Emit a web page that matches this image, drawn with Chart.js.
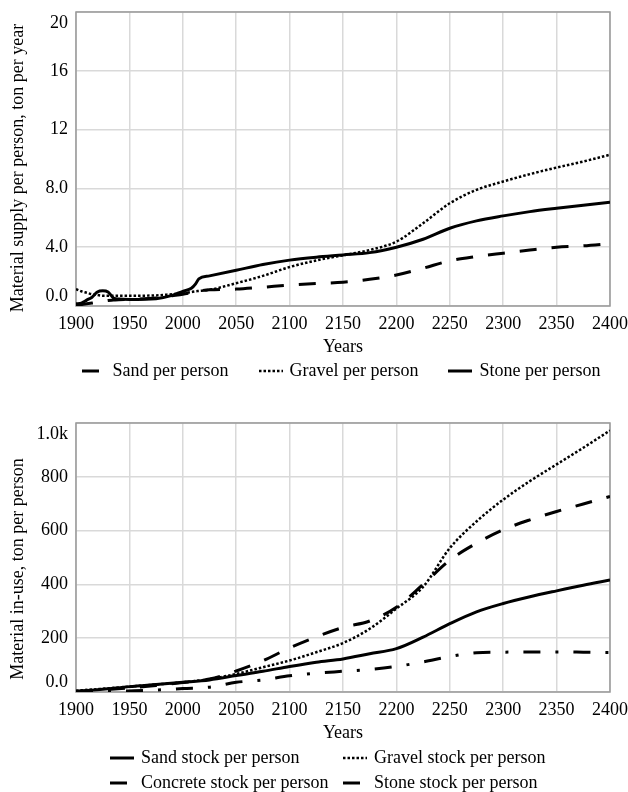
<!DOCTYPE html>
<html>
<head>
<meta charset="utf-8">
<script src="https://cdn.jsdelivr.net/npm/chart.js@4.4.1/dist/chart.umd.min.js"></script>
<style>
  html, body { margin: 0; padding: 0; background: #fff; }
  #wrap { position: relative; width: 628px; height: 792px; font-family: "Liberation Serif", "Times New Roman", serif; font-size: 18px; color: #000; }
  .box { position: absolute; left: 0; width: 628px; }
  #supplyBox { top: 0; height: 390px; }
  #stockBox { top: 390px; height: 402px; }
  .legend { position: absolute; display: flex; align-items: center; white-space: nowrap; }
  .legend .item { display: flex; align-items: center; height: 25px; }
  .legend svg { margin-right: 7px; }
  #supplyLegend { left: 58px; width: 566px; top: 358px; justify-content: center; gap: 30px; }
  #stockLegend { left: 110px; top: 745px; display: grid; grid-template-columns: 233px auto; }
</style>
</head>
<body>
<div id="wrap">
  <div class="box" id="supplyBox"><canvas id="supplyChart"></canvas></div>
  <div class="box" id="stockBox"><canvas id="stockChart"></canvas></div>
  <div class="legend" id="supplyLegend"></div>
  <div class="legend" id="stockLegend"></div>
</div>
<script>
// supply per person, ton per year
const supplyYears = [1900, 1905, 1910, 1915, 1920, 1925, 1930, 1935, 1940, 1950, 1975, 1990, 2000, 2008, 2012, 2015,
  2025, 2050, 2075, 2100, 2125, 2150, 2175, 2200, 2225, 2250, 2275, 2300, 2325, 2350, 2375, 2400];
const sandSupply = [0.10, 0.10, 0.15, 0.20, 0.25, 0.30, 0.38, 0.40, 0.42, 0.45, 0.55, 0.70, 0.80, 0.90, 0.95, 1.00,
  1.10, 1.15, 1.28, 1.42, 1.53, 1.62, 1.82, 2.11, 2.57, 3.07, 3.36, 3.59, 3.81, 4.00, 4.09, 4.24];
const gravelSupply = [1.15, 1.00, 0.90, 0.80, 0.75, 0.70, 0.70, 0.70, 0.70, 0.70, 0.72, 0.80, 0.85, 0.95, 1.00, 1.02,
  1.10, 1.55, 2.05, 2.65, 3.10, 3.45, 3.81, 4.38, 5.63, 6.99, 7.90, 8.47, 8.97, 9.42, 9.83, 10.29];
const stoneSupply = [0.15, 0.20, 0.40, 0.60, 0.95, 1.03, 0.95, 0.55, 0.47, 0.45, 0.50, 0.72, 1.00, 1.20, 1.50, 1.85,
  2.05, 2.43, 2.82, 3.12, 3.32, 3.47, 3.63, 4.00, 4.54, 5.29, 5.79, 6.13, 6.42, 6.65, 6.86, 7.06];
const supplyTickLabels = ['0.0', '4.0', '8.0', '12', '16', '20'];

// material stock in use, ton per person
const stockYears = [1900, 1925, 1950, 1975, 2000, 2025, 2050, 2075, 2100, 2125, 2150,
  2175, 2200, 2225, 2250, 2275, 2300, 2325, 2350, 2375, 2400];
const sandStock = [2, 10, 20, 28, 36, 45, 61, 77, 95, 111, 123, 142, 161, 204, 254, 298, 329, 354, 376, 397, 416];
const gravelStock = [5, 12, 20, 28, 36, 48, 67, 92, 117, 148, 182, 235, 310, 391, 535, 634, 715, 784, 846, 908, 972];
const concreteStock = [3, 8, 15, 24, 35, 48, 78, 116, 164, 205, 240, 264, 315, 400, 490, 553, 603, 640, 671, 699, 727];
const stoneStock = [0, 2, 4, 7, 13, 18, 36, 45, 60, 70, 77, 84, 95, 112, 132, 146, 148, 149, 149, 148, 147];
const stockTickLabels = ['0.0', '200', '400', '600', '800', '1.0k'];

const FONT = '"Liberation Serif", "Times New Roman", serif';
Chart.defaults.font.family = FONT;
Chart.defaults.font.size = 18;
Chart.defaults.color = '#000';

const DOTTED = [2.5, 2];
const LONG_DASH = [17, 15];
const DASH_DOT = [17, 15, 3, 15];

function series(label, years, values, dash, width) {
  return {
    label,
    data: years.map((yr, i) => ({ x: yr, y: values[i] })),
    borderColor: '#000',
    borderWidth: width,
    borderDash: dash,
    pointRadius: 0,
    fill: false,
    cubicInterpolationMode: 'monotone'
  };
}

// frame around the plot and the y tick labels, end labels pulled inside the frame
const plotFrame = {
  id: 'plotFrame',
  beforeDatasetsDraw(chart) {
    const { ctx, chartArea: a } = chart;
    ctx.save();
    ctx.strokeStyle = '#999';
    ctx.lineWidth = 1.5;
    ctx.strokeRect(a.left, a.top, a.right - a.left, a.bottom - a.top);
    ctx.restore();
  },
  afterDraw(chart, args, opts) {
    const { ctx, chartArea: a } = chart;
    const y = chart.scales.y;
    ctx.save();
    ctx.font = '18px ' + FONT;
    ctx.fillStyle = '#000';
    ctx.textAlign = 'right';
    ctx.textBaseline = 'middle';
    y.ticks.forEach((t, i) => {
      let py = y.getPixelForValue(t.value);
      py = Math.min(Math.max(py, a.top + 11), a.bottom - 10);
      ctx.fillText(opts.labels[i], a.left - 8, py);
    });
    ctx.translate(18, opts.titleY);
    ctx.rotate(-Math.PI / 2);
    ctx.textAlign = 'center';
    ctx.fillText(opts.title, 0, 0);
    ctx.restore();
  }
};

function makeOptions(yMax, yStep, padding, tickLabels, title, titleY) {
  return {
    responsive: true,
    maintainAspectRatio: false,
    animation: false,
    layout: { padding },
    plugins: {
      legend: { display: false },
      tooltip: { enabled: false },
      plotFrame: { labels: tickLabels, title, titleY }
    },
    scales: {
      x: {
        type: 'linear',
        min: 1900,
        max: 2400,
        grid: { color: '#d9d9d9', lineWidth: 1.5, tickLength: 7, tickColor: 'transparent' },
        border: { display: false },
        ticks: { stepSize: 50, padding: 0, callback: v => String(v), maxRotation: 0 },
        title: { display: true, text: 'Years', padding: { top: 0, bottom: 2 } },
        afterFit(scale) { scale.height = 54; }
      },
      y: {
        min: 0,
        max: yMax,
        grid: { color: '#d9d9d9', lineWidth: 1.5, drawTicks: false },
        border: { display: false },
        ticks: { stepSize: yStep, display: false },
        afterFit(scale) { scale.width = 76; }
      }
    }
  };
}

// legend built in the page from the chart's own datasets
function htmlLegend(chart, el) {
  chart.data.datasets.forEach(ds => {
    const item = document.createElement('div');
    item.className = 'item';
    const dash = ds.borderDash && ds.borderDash.length ? ds.borderDash.join(' ') : 'none';
    item.innerHTML = '<svg width="24" height="10"><line x1="0" y1="5" x2="24" y2="5" stroke="#000" stroke-width="' +
      ds.borderWidth + '" stroke-dasharray="' + dash + '"/></svg><span>' + ds.label + '</span>';
    el.appendChild(item);
  });
}

const supplyChart = new Chart(document.getElementById('supplyChart'), {
  type: 'line',
  data: {
    datasets: [
      series('Sand per person', supplyYears, sandSupply, LONG_DASH, 3),
      series('Gravel per person', supplyYears, gravelSupply, DOTTED, 2.5),
      series('Stone per person', supplyYears, stoneSupply, [], 3)
    ]
  },
  options: makeOptions(20, 4, { top: 12, right: 18, bottom: 30, left: 0 }, supplyTickLabels,
    'Material supply per person, ton per year', 168),
  plugins: [plotFrame]
});

const stockChart = new Chart(document.getElementById('stockChart'), {
  type: 'line',
  data: {
    datasets: [
      series('Sand stock per person', stockYears, sandStock, [], 3),
      series('Gravel stock per person', stockYears, gravelStock, DOTTED, 2.5),
      series('Concrete stock per person', stockYears, concreteStock, LONG_DASH, 3),
      series('Stone stock per person', stockYears, stoneStock, DASH_DOT, 3)
    ]
  },
  options: makeOptions(1000, 200, { top: 33, right: 18, bottom: 46, left: 0 }, stockTickLabels,
    'Material in-use, ton per person', 179),
  plugins: [plotFrame]
});

htmlLegend(supplyChart, document.getElementById('supplyLegend'));
htmlLegend(stockChart, document.getElementById('stockLegend'));
</script>
</body>
</html>
